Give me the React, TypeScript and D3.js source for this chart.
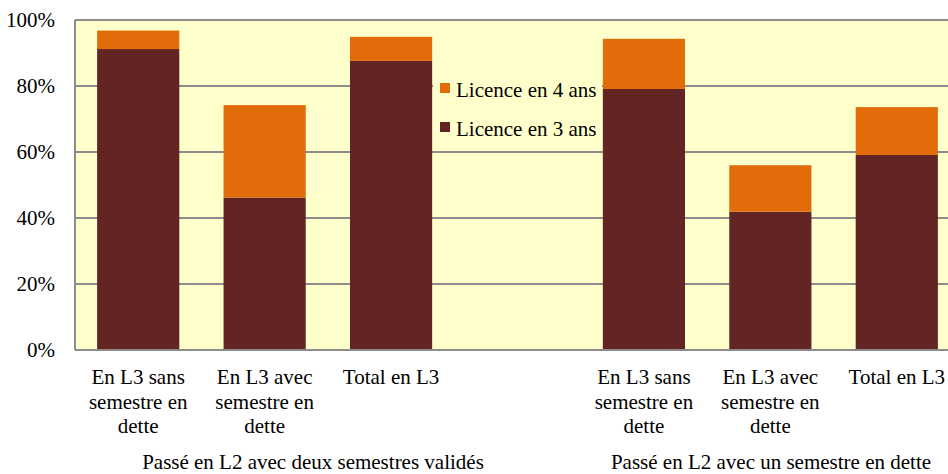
import React from "react";
import * as d3 from "d3";

// categories, the 4th slot is the empty gap between the two groups
const categories = ["a1", "a2", "a3", "gap", "b1", "b2", "b3"];
const catLabels = [
  ["En L3 sans", "semestre en", "dette"],
  ["En L3 avec", "semestre en", "dette"],
  ["Total en L3"],
  [],
  ["En L3 sans", "semestre en", "dette"],
  ["En L3 avec", "semestre en", "dette"],
  ["Total en L3"],
];
const licence3 = [0.912, 0.462, 0.876, null, 0.791, 0.419, 0.591];
const licence4 = [0.056, 0.28, 0.073, null, 0.152, 0.141, 0.145];
const groupLabels = ["Passé en L2 avec deux semestres validés", "Passé en L2 avec un semestre en dette"];
const yTicks = [0, 0.2, 0.4, 0.6, 0.8, 1];
const legendItems = [
  { label: "Licence en 4 ans", color: "#e36c0a" },
  { label: "Licence en 3 ans", color: "#632523" },
];

const W = 948;
const H = 474;
const textStyle = { fontFamily: "'Liberation Serif', 'Times New Roman', serif", fontSize: "21px" };

export default function App() {
  const left = 75, top = 20, bottom = 350, right = 960;
  const x = d3.scaleBand().domain(categories).range([left, right]).paddingInner(0.35).paddingOuter(0.175);
  const y = d3.scaleLinear().domain([0, 1]).range([bottom, top]);
  const pct = d3.format(".0%");
  const groupX = [313, 771]; // centres of the two group captions

  const bars = categories
    .map((c, i) => ({ c, l3: licence3[i], l4: licence4[i] }))
    .filter((d) => d.l3 != null);

  return (
    <svg width={W} height={H} style={{ position: "absolute", left: 0, top: 0 }}>
      <rect x={left} y={top} width={right - left} height={bottom - top} fill="#ffffcc" />
      {yTicks.map((t) => (
        <line key={t} x1={left} x2={right} y1={y(t)} y2={y(t)} stroke="#8c8c8c" strokeWidth={2} />
      ))}
      <line x1={left} x2={left} y1={top} y2={bottom} stroke="#8c8c8c" strokeWidth={2} />
      {yTicks.map((t) => (
        <text key={"t" + t} x={55} y={y(t) + 7} textAnchor="end" style={textStyle}>
          {pct(t)}
        </text>
      ))}
      {bars.map((d) => (
        <g key={d.c}>
          <rect x={x(d.c)} width={x.bandwidth()} y={y(d.l3)} height={y(0) - y(d.l3)} fill="#632523" />
          <rect x={x(d.c)} width={x.bandwidth()} y={y(d.l3 + d.l4)} height={y(d.l3) - y(d.l3 + d.l4)} fill="#e36c0a" />
        </g>
      ))}
      <line x1={left} x2={right} y1={bottom} y2={bottom} stroke="#8c8c8c" strokeWidth={2} />
      {categories.map((c, i) =>
        catLabels[i].map((line, j) => (
          <text key={c + j} x={x(c) + x.bandwidth() / 2} y={384 + j * 24.5} textAnchor="middle" style={textStyle}>
            {line}
          </text>
        ))
      )}
      {groupLabels.map((g, i) => (
        <text key={g} x={groupX[i]} y={469} textAnchor="middle" style={textStyle}>
          {g}
        </text>
      ))}
      {/* legend sits on the plot, its box hides the 80% gridline */}
      <rect x={433} y={74} width={169} height={74} fill="#ffffcc" />
      {legendItems.map((d, i) => (
        <g key={d.label}>
          <rect x={440} y={83 + i * 39} width={10} height={10} fill={d.color} />
          <text x={456} y={97 + i * 39} style={textStyle}>
            {d.label}
          </text>
        </g>
      ))}
    </svg>
  );
}
